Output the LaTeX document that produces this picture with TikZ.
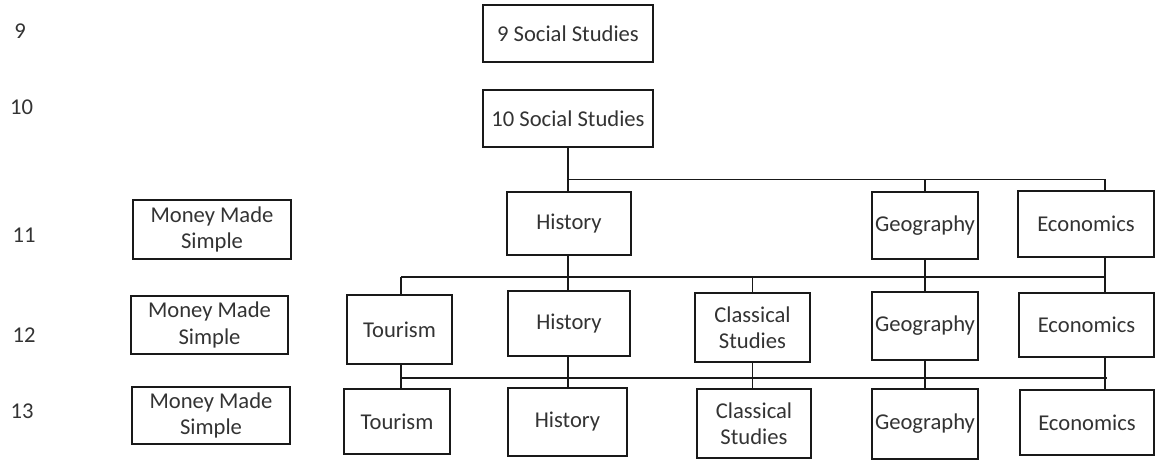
\documentclass[tikz,border=0pt]{standalone}
\usepackage{fontspec}
\setmainfont{Carlito}
\begin{document}
\begin{tikzpicture}[x=1bp,y=-1bp,
  every node/.style={font=\fontsize{22.7}{26.5}\selectfont, text=black!80},
  box/.style={draw=black!90, line width=1.3bp, inner sep=0pt, align=center},
  lab/.style={inner sep=0pt},
  conn/.style={draw=black!90, line width=1.3bp}]
\useasboundingbox (0,0) rectangle (1155,460);
% row labels
\node[lab] (l9)  at (20,31) {9};
\node[lab] (l10) at (21.5,107) {10};
\node[lab] (l11) at (24,235) {11};
\node[lab] (l12) at (24,335) {12};
\node[lab] (l13) at (22,411) {13};
% boxes
\node[box, minimum width=170bp, minimum height=57bp] (ss9)  at (568,33.5) {9 Social Studies};
\node[box, minimum width=170bp, minimum height=57bp] (ss10) at (568,118.5) {10 Social Studies};
\node[box, minimum width=124bp, minimum height=63bp] (hist1) at (569,223.5) {History};
\node[box, minimum width=106bp, minimum height=67bp] (geo1) at (925,225.5) {Geography};
\node[box, minimum width=136bp, minimum height=66bp] (eco1) at (1086,224) {Economics};
\node[box, minimum width=105bp, minimum height=69bp] (tour2) at (399.5,329.5) {Tourism};
\node[box, minimum width=122bp, minimum height=65bp] (hist2) at (569,323.5) {History};
\node[box, minimum width=115bp, minimum height=69bp] (class2) at (752.5,327.5) {Classical\\Studies};
\node[box, minimum width=106bp, minimum height=68bp] (geo2) at (925,326) {Geography};
\node[box, minimum width=135bp, minimum height=64bp] (eco2) at (1086.5,325) {Economics};
\node[box, minimum width=106bp, minimum height=65bp] (tour3) at (397,421.5) {Tourism};
\node[box, minimum width=119bp, minimum height=68bp] (hist3) at (567.5,422) {History};
\node[box, minimum width=114bp, minimum height=69bp] (class3) at (754,423.5) {Classical\\Studies};
\node[box, minimum width=106bp, minimum height=70bp] (geo3) at (925,424) {Geography};
\node[box, minimum width=134bp, minimum height=65bp] (eco3) at (1087,422.5) {Economics};
\node[box, minimum width=158bp, minimum height=59bp] (mms1) at (212,229.5) {Money Made\\Simple};
\node[box, minimum width=157bp, minimum height=58bp] (mms2) at (209.5,325) {Money Made\\Simple};
\node[box, minimum width=158bp, minimum height=57bp] (mms3) at (211,415.5) {Money Made\\Simple};
% bus coordinates
\coordinate (b1w) at (568,179.5);
\coordinate (b1e) at (1105,179.5);
\coordinate (b2w) at (401,277);
\coordinate (b2e) at (1105,277);
\coordinate (b3w) at (401,378);
\coordinate (b3e) at (1107,378);
% connectors
\draw[conn] (ss10.south -| b1w) -- (hist1.north -| b1w);
\draw[conn] (b1w) -- (b1e);
\draw[conn] (geo1.north) -- (geo1.north |- b1w);
\draw[conn] (b1e) -- (b1e |- eco1.north);
\draw[conn] (hist1.south -| b1w) -- (hist2.north -| b1w);
\draw[conn] (b2w) -- (b2e);
\draw[conn] (b2w) -- (b2w |- tour2.north);
\draw[conn] (class2.north) -- (class2.north |- b2w);
\draw[conn] (geo1.south) -- (geo2.north);
\draw[conn] (eco1.south -| b2e) -- (eco2.north -| b2e);
\draw[conn] (b3w) -- (b3e);
\draw[conn] (tour2.south -| b3w) -- (tour3.north -| b3w);
\draw[conn] (hist2.south -| b1w) -- (hist3.north -| b1w);
\draw[conn] (class2.south) -- (class2.south |- class3.north);
\draw[conn] (geo2.south) -- (geo3.north);
\draw[conn] (eco2.south -| b2e) -- (eco3.north -| b2e);
\end{tikzpicture}
\end{document}
